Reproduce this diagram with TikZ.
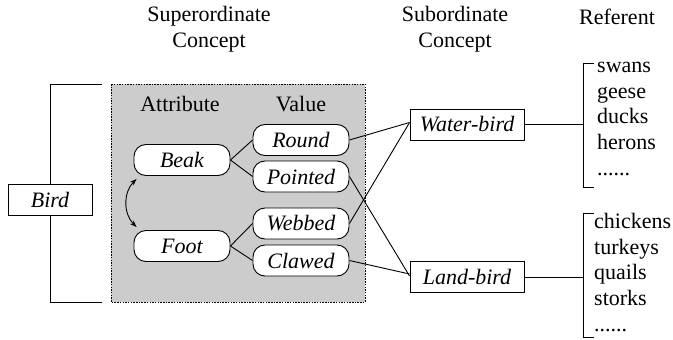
\documentclass[tikz,border=0pt]{standalone}
\usepackage{fontspec}
\setmainfont{Liberation Serif}
\usetikzlibrary{arrows.meta}
\begin{document}
\begin{tikzpicture}[x=1pt,y=-1pt,
  every node/.style={font=\fontsize{22}{25.7}\selectfont, inner sep=0pt},
  ln/.style={line width=0.9pt},
  attrbox/.style={draw, line width=0.9pt, fill=white, rounded corners=12pt, minimum width=96pt, minimum height=31pt, font=\fontsize{22}{25.7}\selectfont\itshape},
  sqbox/.style={draw, line width=0.9pt, fill=white, minimum height=31pt, inner xsep=5pt, font=\fontsize{22}{25.7}\selectfont\itshape},
  title/.style={align=center}]
\useasboundingbox (0,0) rectangle (673,340);
% titles
\node[title] (t1) at (209,29) {Superordinate\\Concept};
\node[title] (t2) at (455,29) {Subordinate\\Concept};
\node (t3) at (617,17) {Referent};
% shaded box
\draw[fill=black!20, line width=0.8pt, dash pattern=on 1.5pt off 1.2pt] (111,84) rectangle (365,302);
\node (attr) at (180,104) {Attribute};
\node (val) at (301,104) {Value};
% Bird bracket
\coordinate (bt) at (102,84);
\coordinate (bb) at (102,302);
\draw[ln] (bt) -- (50,84) -- (50,302) -- (bb);
\node[sqbox, minimum width=84pt] (bird) at (50,200) {Bird};
% attributes and values
\node[attrbox] (beak) at (182,160) {Beak};
\node[attrbox] (foot) at (182,246) {Foot};
\node[attrbox] (round) at (301,140) {Round};
\node[attrbox] (pointed) at (301,176.5) {Pointed};
\node[attrbox] (webbed) at (301,223.5) {Webbed};
\node[attrbox] (clawed) at (301,260.5) {Clawed};
\draw[ln] (beak.east) -- (round.west);
\draw[ln] (beak.east) -- (pointed.west);
\draw[ln] (foot.east) -- (webbed.west);
\draw[ln] (foot.east) -- (clawed.west);
\draw[ln, {Stealth[length=7pt,width=5pt]}-{Stealth[length=7pt,width=5pt]}] ([xshift=3pt,yshift=-3pt]beak.south west) to[bend right=45] ([xshift=3pt,yshift=3pt]foot.north west);
% subordinate
\node[sqbox, minimum width=114pt] (water) at (467,124.5) {Water-bird};
\node[sqbox, minimum width=114pt] (land) at (467,277) {Land-bird};
\draw[ln] (round.east) -- ([yshift=2pt]water.west);
\draw[ln] (webbed.east) -- ([yshift=2pt]water.west);
\draw[ln] (pointed.east) -- ([yshift=1pt]land.west);
\draw[ln] (clawed.east) -- ([yshift=3pt]land.west);
% referent brackets
\coordinate (wr) at (583,124.5);
\coordinate (lr) at (583,277);
\draw[ln] (water.east) -- (wr);
\draw[ln] (land.east) -- (lr);
\draw[ln] (594,63) -- (583,63) -- (583,187) -- (594,187);
\draw[ln] (594,213) -- (583,213) -- (583,337) -- (594,337);
\node[anchor=north west, align=left] (ref1) at (597,62) {swans\\geese\\ducks\\herons\\......};
\node[anchor=north west, align=left] (ref2) at (594,213) {chickens\\turkeys\\quails\\storks\\......};
\end{tikzpicture}
\end{document}
